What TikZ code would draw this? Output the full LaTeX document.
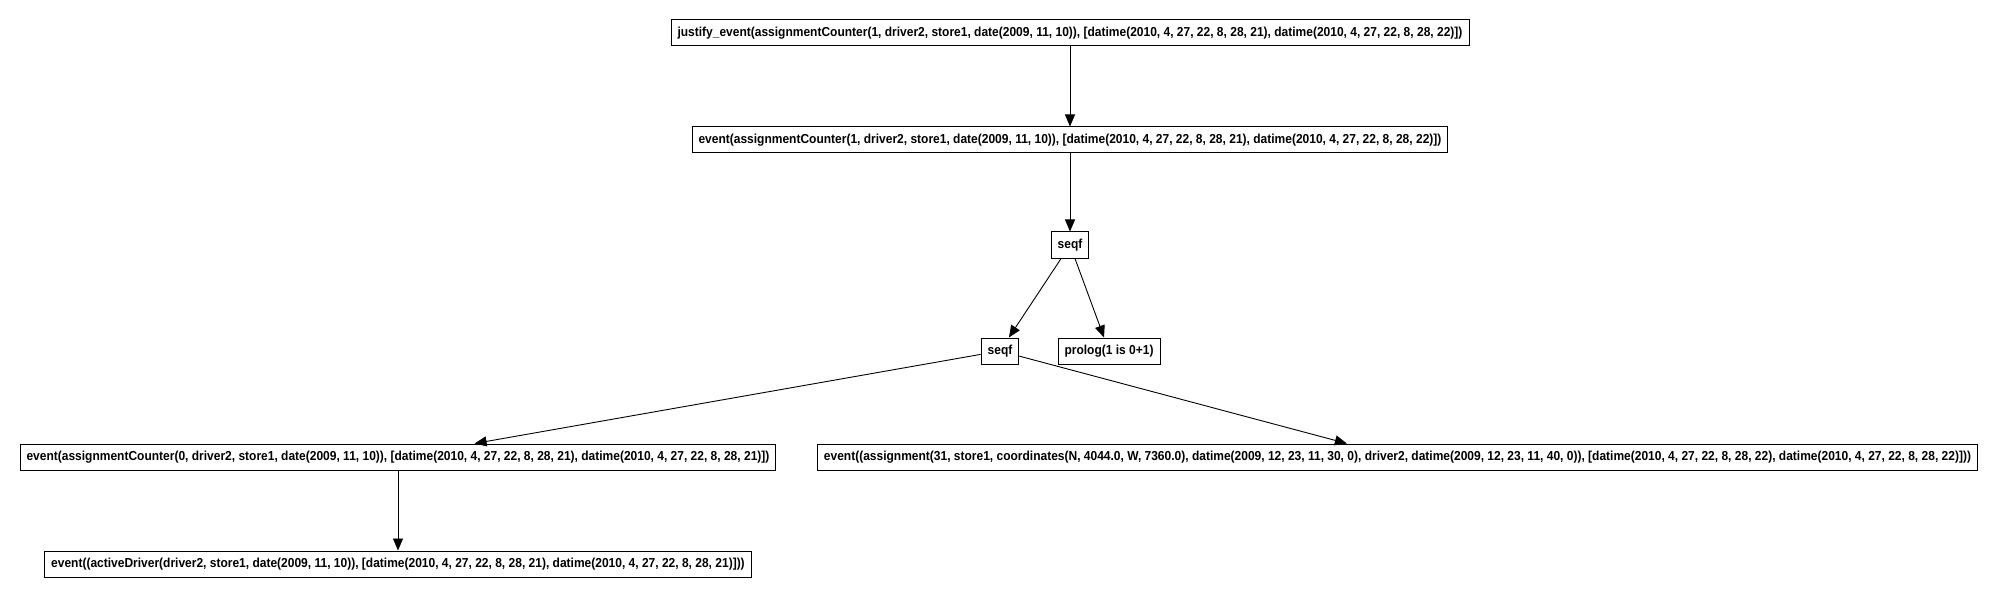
\documentclass[tikz,border=0pt]{standalone}
\usepackage{fontspec}
\setmainfont{Liberation Sans}
\usetikzlibrary{arrows.meta}
\newcommand{\nt}[1]{\scalebox{0.923}[1]{#1}}
\tikzset{
  box/.style={draw=black, line width=1pt, fill=white, inner xsep=6.5pt, inner ysep=0pt,
    minimum height=26pt, font=\fontsize{13}{15}\selectfont\bfseries, text=black},
  link/.style={draw=black, line width=0.9pt, -{Triangle[length=12pt,width=10pt]}}
}
\begin{document}
\begin{tikzpicture}[x=1pt,y=-1pt]
\useasboundingbox[fill=white] (0,0) rectangle (2000,596);
\node[box] (top) at (1070,33) {\nt{justify\_event(assignmentCounter(1, driver2, store1, date(2009, 11, 10)), [datime(2010, 4, 27, 22, 8, 28, 21), datime(2010, 4, 27, 22, 8, 28, 22)])}};
\node[box] (ev1) at (1070,140) {\nt{event(assignmentCounter(1, driver2, store1, date(2009, 11, 10)), [datime(2010, 4, 27, 22, 8, 28, 21), datime(2010, 4, 27, 22, 8, 28, 22)])}};
\node[box] (sq1) at (1070,245) {\nt{seqf}};
\node[box] (sq2) at (1000,351) {\nt{seqf}};
\node[box] (pro) at (1109,351) {\nt{prolog(1 is 0+1)}};
\node[box] (ev0) at (398,457) {\nt{event(assignmentCounter(0, driver2, store1, date(2009, 11, 10)), [datime(2010, 4, 27, 22, 8, 28, 21), datime(2010, 4, 27, 22, 8, 28, 21)])}};
\node[box] (ev31) at (1397.5,457) {\nt{event((assignment(31, store1, coordinates(N, 4044.0, W, 7360.0), datime(2009, 12, 23, 11, 30, 0), driver2, datime(2009, 12, 23, 11, 40, 0)), [datime(2010, 4, 27, 22, 8, 28, 22), datime(2010, 4, 27, 22, 8, 28, 22)]))}};
\node[box] (act) at (398,564) {\nt{event((activeDriver(driver2, store1, date(2009, 11, 10)), [datime(2010, 4, 27, 22, 8, 28, 21), datime(2010, 4, 27, 22, 8, 28, 21)]))}};
\draw[link] (top) -- (ev1);
\draw[link] (ev1) -- (sq1);
\draw[link] (sq1) -- (sq2);
\draw[link] (sq1) -- (pro);
\draw[link] (sq2) -- (ev0);
\draw[link] (sq2) -- (ev31);
\draw[link] (ev0) -- (act);
\end{tikzpicture}
\end{document}
